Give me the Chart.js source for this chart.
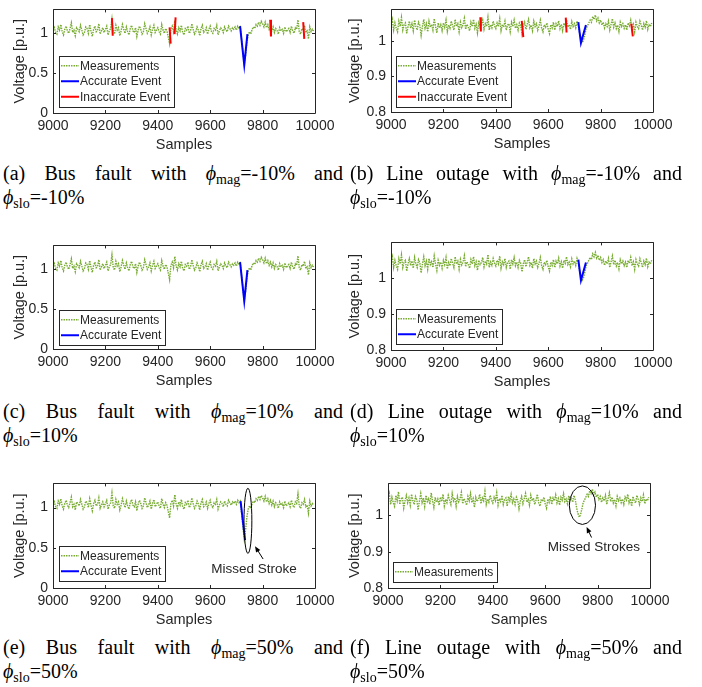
<!DOCTYPE html>
<html>
<head>
<meta charset="utf-8">
<script src="https://cdn.jsdelivr.net/npm/chart.js@4.4.1/dist/chart.umd.min.js"></script>
<style>
  html, body { margin: 0; padding: 0; background: #fff; }
  #page { position: relative; width: 702px; height: 687px; overflow: hidden; }
  #page canvas { position: absolute; }
  .cap {
    position: absolute;
    font-family: "Liberation Serif", "Times New Roman", serif;
    font-size: 20px;
    line-height: 24px;
    color: #000;
  }
  .cap .l1 { text-align: justify; text-align-last: justify; }
  .cap i { font-family: "Liberation Serif", "DejaVu Serif", serif; font-size: 20px; }
  .cap sub { font-size: 14px; vertical-align: -4px; line-height: 0; }
</style>
</head>
<body>
<div id="page"></div>
<script>
// Sample axis: one stored value every 5 samples starting at 9000
const SAMPLE_START = 9000;
const SAMPLE_STEP = 5;

// Bus fault voltage measurements [p.u.]
const busMeasured = [
  1.03, 1.07, 1.01, 0.99, 1.08, 1.04, 1.11, 1.02, 0.98, 1.05, 1.09, 1.03, 1.00, 1.06, 1.13, 1.01, 1.04, 0.97, 1.07, 1.05,
  1.02, 1.10, 1.04, 0.98, 1.01, 1.08, 1.06, 1.00, 1.11, 1.03, 0.96, 1.05, 1.09, 1.02, 1.04, 1.12, 0.99, 1.03, 1.07, 1.01,
  1.05, 1.09, 0.98, 1.03, 1.06, 1.18, 1.02, 0.99, 1.10, 1.04, 1.07, 0.97, 1.03, 1.11, 1.05, 1.00, 1.08, 1.02, 0.98, 1.06,
  1.10, 1.03, 1.01, 1.07, 0.96, 1.04, 1.09, 1.05, 0.99, 1.02, 1.12, 1.06, 1.00, 1.03, 1.08, 0.98, 1.05, 1.10, 1.01, 1.04,
  1.07, 1.02, 0.99, 1.11, 1.04, 1.00, 1.06, 1.03, 0.95, 0.87, 1.05, 1.09, 1.02, 1.16, 1.04, 0.99, 1.07, 1.03, 1.10, 1.01,
  0.98, 1.06, 1.04, 1.09, 1.00, 1.03, 1.12, 1.05, 0.99, 1.02, 1.08, 1.04, 0.97, 1.06, 1.10, 1.01, 1.03, 1.07, 0.99, 1.05,
  1.09, 1.02, 1.00, 1.06, 1.04, 1.10, 0.98, 1.03, 1.07, 1.05, 1.01, 1.08, 1.04, 1.02, 1.09, 1.06, 1.03, 1.07, 1.05, 1.08,
  1.04, 1.09, 1.06, 1.08, 0.92, 0.76, 0.61, 0.72, 0.88, 0.98, 1.02, 0.99, 1.05, 1.08, 1.06, 1.11, 1.09, 1.14, 1.10, 1.15,
  1.12, 1.08, 1.14, 1.07, 1.11, 1.05, 1.09, 1.03, 1.08, 1.01, 1.06, 1.04, 0.99, 1.07, 1.03, 1.05, 1.00, 1.08, 1.02, 1.04,
  1.06, 1.01, 1.09, 1.03, 1.00, 1.07, 1.05, 1.17, 1.02, 0.99, 1.06, 1.04, 1.10, 1.01, 1.03, 0.93, 1.08, 1.02, 1.05, 1.03
];

// Line outage voltage measurements [p.u.]
const lineMeasured = [
  1.045, 1.060, 1.030, 1.050, 1.035, 1.025, 1.055, 1.040, 1.065, 1.030, 1.045, 1.050, 1.020, 1.040, 1.055, 1.035, 1.048, 1.028, 1.058, 1.040,
  1.030, 1.052, 1.043, 1.015, 1.040, 1.060, 1.035, 1.048, 1.025, 1.055, 1.038, 1.046, 1.030, 1.062, 1.040, 1.022, 1.050, 1.036, 1.045, 1.028,
  1.050, 1.038, 1.058, 1.026, 1.044, 1.035, 1.055, 1.042, 1.030, 1.060, 1.040, 1.048, 1.025, 1.052, 1.037, 1.045, 1.063, 1.032, 1.046, 1.038,
  1.028, 1.052, 1.040, 1.060, 1.035, 1.046, 1.022, 1.050, 1.038, 1.044, 1.058, 1.032, 1.048, 1.040, 1.066, 1.030, 1.045, 1.036, 1.055, 1.042,
  1.034, 1.050, 1.040, 1.062, 1.028, 1.046, 1.038, 1.055, 1.030, 1.044, 1.048, 1.025, 1.052, 1.040, 1.058, 1.035, 1.045, 1.030, 1.050, 1.042,
  1.018, 1.040, 1.052, 1.032, 1.046, 1.060, 1.036, 1.044, 1.028, 1.055, 1.040, 1.048, 1.030, 1.042, 1.058, 1.035, 1.025, 1.045, 1.038, 1.050,
  1.032, 1.020, 1.045, 1.036, 1.052, 1.030, 1.048, 1.040, 1.056, 1.034, 1.046, 1.028, 1.050, 1.042, 1.060, 1.038, 1.045, 1.032, 1.054, 1.040,
  1.048, 1.036, 1.055, 1.042, 1.020, 1.005, 0.995, 1.002, 1.018, 1.035, 1.042, 1.050, 1.058, 1.052, 1.068, 1.060, 1.072, 1.056, 1.064, 1.050,
  1.058, 1.044, 1.052, 1.036, 1.048, 1.040, 1.055, 1.030, 1.046, 1.062, 1.038, 1.050, 1.034, 1.044, 1.026, 1.052, 1.040, 1.048, 1.035, 1.045,
  1.030, 1.050, 1.042, 1.058, 1.035, 1.046, 1.025, 1.052, 1.040, 1.034, 1.055, 1.044, 1.030, 1.048, 1.038, 1.056, 1.032, 1.045, 1.040, 1.050
];

// Detected strokes (sample, voltage)
const busAccurateX = [9714, 9730, 9742];
const busAccurateY = [1.09, 0.60, 0.99];
const busPartialX = [9716, 9733];
const busPartialY = [1.08, 0.595];
const busInaccurateX = [[9225, 9228], [9445, 9449], [9464, 9468], [9829, 9832], [9955, 9959]];
const busInaccurateY = [[1.19, 0.97], [1.075, 0.87], [0.99, 1.20], [1.17, 0.96], [1.14, 0.93]];

const lineAccurateX = [9715, 9725, 9744];
const lineAccurateY = [1.052, 0.994, 1.044];
const lineInaccurateX = [[9341, 9343], [9499, 9505], [9667, 9670], [9917, 9923]];
const lineInaccurateY = [[1.066, 1.026], [1.056, 1.010], [1.065, 1.023], [1.048, 1.012]];

// Axis ticks
const xTicks = [9000, 9200, 9400, 9600, 9800, 10000];
const busYTicks = [0, 0.5, 1];
const lineYTicks = [0.8, 0.9, 1];

const MEAS = '#77AC30';
const ACC = '#0000FF';
const INACC = '#FF0000';
const INK = '#262626';
const SANS = '"Liberation Sans", Arial, Helvetica, sans-serif';

const toPoints = (xs, ys) => xs.map((x, i) => ({ x, y: ys[i] }));
const measuredPoints = vals => vals.map((v, i) => ({ x: SAMPLE_START + i * SAMPLE_STEP, y: v }));
// several short segments in one dataset, separated by gaps
const segmentPoints = (xs, ys) => {
  const out = [];
  xs.forEach((seg, i) => {
    if (i) out.push({ x: seg[0], y: null });
    seg.forEach((x, j) => out.push({ x, y: ys[i][j] }));
  });
  return out;
};

// MATLAB-style box with inward ticks
const axesBox = {
  id: 'axesBox',
  afterDraw(chart) {
    const { ctx, chartArea: a, scales } = chart;
    ctx.save();
    ctx.strokeStyle = INK;
    ctx.lineWidth = 1;
    ctx.beginPath();
    ctx.rect(Math.round(a.left) + 0.5, Math.round(a.top) + 0.5,
      Math.round(a.right - a.left), Math.round(a.bottom - a.top));
    scales.x.ticks.forEach(t => {
      const px = Math.round(scales.x.getPixelForValue(t.value)) + 0.5;
      ctx.moveTo(px, a.bottom); ctx.lineTo(px, a.bottom - 3);
      ctx.moveTo(px, a.top); ctx.lineTo(px, a.top + 3);
    });
    scales.y.ticks.forEach(t => {
      const py = Math.round(scales.y.getPixelForValue(t.value)) + 0.5;
      ctx.moveTo(a.left, py); ctx.lineTo(a.left + 3, py);
      ctx.moveTo(a.right, py); ctx.lineTo(a.right - 3, py);
    });
    ctx.stroke();
    ctx.restore();
  }
};

// Legend box in the lower-left corner of the axes
const boxLegend = {
  id: 'boxLegend',
  afterDraw(chart, args, opts) {
    const { ctx, chartArea: a } = chart;
    const items = chart.data.datasets.filter(d => d.label);
    ctx.save();
    ctx.font = '12px ' + SANS;
    const textW = Math.max(...items.map(d => ctx.measureText(d.label).width));
    const rowH = 15.5;
    const w = Math.round(textW + 25), h = Math.round(items.length * rowH + 4);
    const x = Math.round(a.left + opts.dx), y = Math.round(a.bottom - opts.dy - h);
    ctx.fillStyle = '#fff';
    ctx.fillRect(x, y, w, h);
    ctx.strokeStyle = INK;
    ctx.lineWidth = 1;
    ctx.strokeRect(x + 0.5, y + 0.5, w, h);
    items.forEach((d, i) => {
      const cy = y + 2 + rowH * (i + 0.5);
      ctx.beginPath();
      ctx.setLineDash(d.borderDash || []);
      ctx.strokeStyle = d.borderColor;
      ctx.lineWidth = Math.min(d.borderWidth, 2);
      ctx.moveTo(x + 2, cy);
      ctx.lineTo(x + 20, cy);
      ctx.stroke();
      ctx.setLineDash([]);
      ctx.fillStyle = INK;
      ctx.textBaseline = 'middle';
      ctx.fillText(d.label, x + 21, cy + 0.5);
    });
    ctx.restore();
  }
};

// Ellipse + arrow + note marking missed strokes
const missedNote = {
  id: 'missedNote',
  afterDraw(chart, args, opts) {
    if (!opts.text) return;
    const { ctx, scales: { x: sx, y: sy } } = chart;
    const cx = sx.getPixelForValue(opts.ex), cy = sy.getPixelForValue(opts.ey);
    const rx = Math.abs(sx.getPixelForValue(opts.ex + opts.erx) - cx);
    const ry = Math.abs(sy.getPixelForValue(opts.ey + opts.ery) - cy);
    ctx.save();
    ctx.strokeStyle = '#000';
    ctx.fillStyle = '#000';
    ctx.lineWidth = 1;
    ctx.beginPath();
    ctx.ellipse(cx, cy, rx, ry, 0, 0, Math.PI * 2);
    ctx.stroke();
    const tx = sx.getPixelForValue(opts.from[0]), ty = sy.getPixelForValue(opts.from[1]);
    const hx = sx.getPixelForValue(opts.to[0]), hy = sy.getPixelForValue(opts.to[1]);
    const ang = Math.atan2(hy - ty, hx - tx);
    ctx.beginPath();
    ctx.moveTo(tx, ty);
    ctx.lineTo(hx - 4 * Math.cos(ang), hy - 4 * Math.sin(ang));
    ctx.stroke();
    ctx.beginPath();
    ctx.moveTo(hx, hy);
    ctx.lineTo(hx - 6 * Math.cos(ang) + 2.5 * Math.sin(ang), hy - 6 * Math.sin(ang) - 2.5 * Math.cos(ang));
    ctx.lineTo(hx - 6 * Math.cos(ang) - 2.5 * Math.sin(ang), hy - 6 * Math.sin(ang) + 2.5 * Math.cos(ang));
    ctx.closePath();
    ctx.fill();
    ctx.font = '13.5px ' + SANS;
    ctx.fillStyle = INK;
    ctx.textAlign = 'center';
    ctx.textBaseline = 'middle';
    ctx.fillText(opts.text, sx.getPixelForValue(opts.tx), sy.getPixelForValue(opts.ty));
    ctx.restore();
  }
};

// measurements sit underneath the event strokes (higher order draws first)
const measDataset = vals => ({
  label: 'Measurements', data: measuredPoints(vals), order: 3,
  borderColor: MEAS, borderWidth: 1.4, borderDash: [1.5, 1]
});
const accDataset = (xs, ys) => ({
  label: 'Accurate Event', data: toPoints(xs, ys), order: 2, borderColor: ACC, borderWidth: 2
});
const inaccDataset = (xs, ys) => ({
  label: 'Inaccurate Event', data: segmentPoints(xs, ys), order: 1, borderColor: INACC, borderWidth: 2, spanGaps: false
});

const panels = [
  { box: [53, 4, 315, 113], col: 0, ymin: 0, ymax: 1.3, yTicks: busYTicks, legend: [6, 6],
    datasets: [measDataset(busMeasured), accDataset(busAccurateX, busAccurateY), inaccDataset(busInaccurateX, busInaccurateY)] },
  { box: [391, 4, 653, 112], col: 1, ymin: 0.8, ymax: 1.088, yTicks: lineYTicks, legend: [5, 5],
    datasets: [measDataset(lineMeasured), accDataset(lineAccurateX, lineAccurateY), inaccDataset(lineInaccurateX, lineInaccurateY)] },
  { box: [53, 240, 315, 349], col: 0, ymin: 0, ymax: 1.3, yTicks: busYTicks, legend: [6, 4],
    datasets: [measDataset(busMeasured), accDataset(busAccurateX, busAccurateY)] },
  { box: [391, 237, 653, 350], col: 1, ymin: 0.8, ymax: 1.1, yTicks: lineYTicks, legend: [5, 6],
    datasets: [measDataset(lineMeasured), accDataset(lineAccurateX, lineAccurateY)] },
  { box: [53, 478, 315, 588], col: 0, ymin: 0, ymax: 1.3, yTicks: busYTicks, legend: [6, 7],
    datasets: [measDataset(busMeasured), accDataset(busPartialX, busPartialY)],
    note: { ex: 9744, ey: 0.835, erx: 15, ery: 0.405, from: [9802, 0.36], to: [9771, 0.52], tx: 9767, ty: 0.23, text: 'Missed Stroke' } },
  { box: [388, 478, 650, 588], col: 1, ymin: 0.8, ymax: 1.088, yTicks: lineYTicks, legend: [5, 6],
    datasets: [measDataset(lineMeasured)],
    note: { ex: 9742, ey: 1.028, erx: 50, ery: 0.053, from: [9777, 0.939], to: [9758, 0.968], tx: 9786, ty: 0.912, text: 'Missed Strokes' } }
];

const page = document.getElementById('page');

panels.forEach(p => {
  const [L, T, R, B] = p.box;
  const cx = p.col ? 343 : 8;
  const cw = p.col ? 702 - cx : 350 - cx;
  const cy = T - 8;
  const ch = B + 42 - cy;
  const cv = document.createElement('canvas');
  cv.width = cw; cv.height = ch;
  cv.style.left = cx + 'px'; cv.style.top = cy + 'px';
  cv.style.width = cw + 'px'; cv.style.height = ch + 'px';
  page.appendChild(cv);

  p.datasets.forEach(d => { d.pointRadius = 0; d.tension = 0; d.fill = false; });

  new Chart(cv, {
    type: 'line',
    data: { datasets: p.datasets },
    options: {
      responsive: false,
      animation: false,
      devicePixelRatio: 1,
      layout: { padding: { left: 0, top: T - cy, right: cx + cw - R, bottom: 0 } },
      plugins: {
        legend: { display: false },
        tooltip: { enabled: false },
        boxLegend: { dx: p.legend[0], dy: p.legend[1] },
        missedNote: p.note || {}
      },
      scales: {
        x: {
          type: 'linear', min: 9000, max: 10000,
          grid: { display: false, drawTicks: false },
          border: { display: false },
          afterBuildTicks: s => { s.ticks = xTicks.map(v => ({ value: v })); },
          afterFit: s => { s.height = ch - (B - cy); },
          ticks: { padding: 5, color: INK, font: { family: SANS, size: 14 }, callback: v => String(v), maxRotation: 0, autoSkip: false },
          title: { display: true, text: 'Samples', color: INK, font: { family: SANS, size: 14.5 }, padding: { top: 0, bottom: 1 } }
        },
        y: {
          type: 'linear', min: p.ymin, max: p.ymax,
          grid: { display: false, drawTicks: false },
          border: { display: false },
          afterBuildTicks: s => { s.ticks = p.yTicks.map(v => ({ value: v })); },
          afterFit: s => { s.width = L - cx; },
          ticks: { padding: 5, color: INK, font: { family: SANS, size: 14 }, callback: v => String(v) },
          title: { display: true, text: 'Voltage [p.u.]', color: INK, font: { family: SANS, size: 14.5 }, padding: { top: 3, bottom: 0 } }
        }
      }
    },
    plugins: [axesBox, boxLegend, missedNote]
  });
});

// Sub-figure captions
const captions = [
  { x: 3, w: 340, top: 161, l1: '(a) Bus fault with <i>ϕ</i><sub>mag</sub>=-10% and', l2: '<i>ϕ</i><sub>slo</sub>=-10%' },
  { x: 350, w: 332, top: 161, l1: '(b) Line outage with <i>ϕ</i><sub>mag</sub>=-10% and', l2: '<i>ϕ</i><sub>slo</sub>=-10%' },
  { x: 3, w: 340, top: 399, l1: '(c) Bus fault with <i>ϕ</i><sub>mag</sub>=10% and', l2: '<i>ϕ</i><sub>slo</sub>=10%' },
  { x: 350, w: 332, top: 399, l1: '(d) Line outage with <i>ϕ</i><sub>mag</sub>=10% and', l2: '<i>ϕ</i><sub>slo</sub>=10%' },
  { x: 3, w: 340, top: 635, l1: '(e) Bus fault with <i>ϕ</i><sub>mag</sub>=50% and', l2: '<i>ϕ</i><sub>slo</sub>=50%' },
  { x: 350, w: 332, top: 635, l1: '(f) Line outage with <i>ϕ</i><sub>mag</sub>=50% and', l2: '<i>ϕ</i><sub>slo</sub>=50%' }
];
captions.forEach(c => {
  const d = document.createElement('div');
  d.className = 'cap';
  d.style.left = c.x + 'px';
  d.style.top = c.top + 'px';
  d.style.width = c.w + 'px';
  d.innerHTML = '<div class="l1">' + c.l1 + '</div><div>' + c.l2 + '</div>';
  page.appendChild(d);
});
</script>
</body>
</html>
